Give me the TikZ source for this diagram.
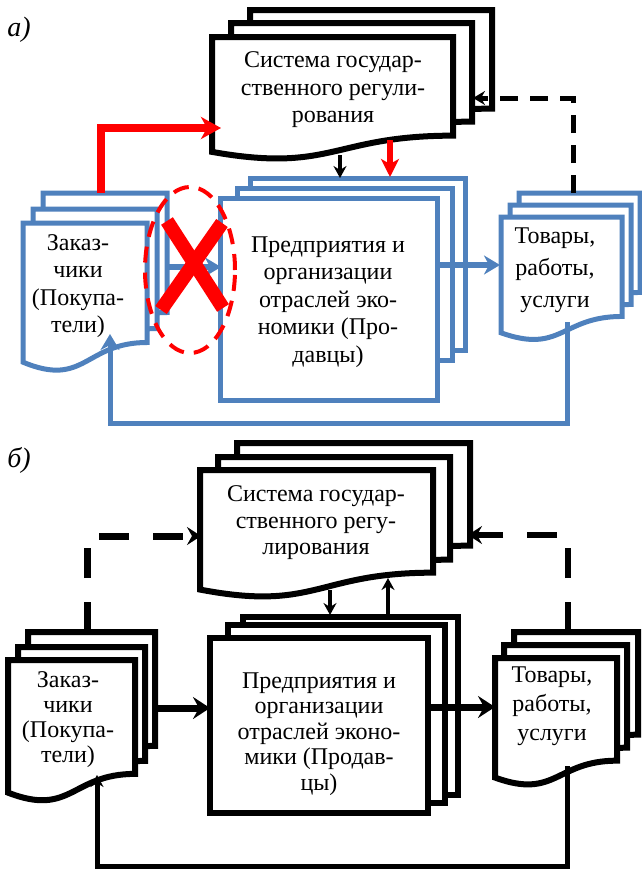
\documentclass[tikz,border=0pt]{standalone}
\usepackage{fontspec}
\setmainfont{Liberation Serif}
\usetikzlibrary{arrows.meta}
\definecolor{docblue}{RGB}{79,129,189}
\definecolor{docred}{RGB}{255,0,0}

% sheet with a wavy bottom: style, left, top, width, height (y counted downwards)
\newcommand\docsheet[5]{%
  \pgfmathsetmacro\dsR{-(#3+0.802*#5)}%
  \pgfmathsetmacro\dsL{-(#3+0.934*#5)}%
  \pgfmathsetmacro\dsC{-(#3+1.108*#5)}%
  \pgfmathsetmacro\dsX{#2+#4}%
  \pgfmathsetmacro\dsM{#2+0.5*#4}%
  \draw[#1] (#2,-#3) -- (\dsX,-#3) -- (\dsX,\dsR)
    .. controls (\dsM,\dsR) and (\dsM,\dsC) .. (#2,\dsL) -- cycle;
}

\tikzset{
  bluesheet/.style={draw=docblue, line width=5pt, fill=white},
  blacksheet/.style={draw=black, line width=6pt, fill=white},
  lbl/.style={align=center, inner sep=0pt, font=\fontsize{24}{27.5}\selectfont},
  tag/.style={inner sep=0pt, font=\fontsize{28}{30}\selectfont\itshape},
  redline/.style={draw=docred, line width=8pt, -{Stealth[length=20pt,width=22pt,inset=6pt]}},
  reddown/.style={draw=docred, line width=6pt, -{Stealth[length=18pt,width=18pt,inset=5pt]}},
  blueline/.style={draw=docblue, line width=6pt, -{Stealth[length=16pt,width=19pt,inset=5pt]}},
  blackthin/.style={draw=black, line width=4pt, -{Stealth[length=12pt,width=13pt,inset=4pt]}},
  blackthick/.style={draw=black, line width=7pt, -{Stealth[length=17pt,width=22pt,inset=6pt]}},
  dashA/.style={draw=black, line width=5pt, dash pattern=on 18pt off 12pt, -{Stealth[length=12pt,width=14pt,inset=4pt]}},
  dashB/.style={draw=black, line width=7pt, dash pattern=on 30pt off 24pt, -{Stealth[length=14pt,width=18pt,inset=5pt]}},
  cross/.style={draw=docred, line width=14pt},
  redring/.style={draw=docred, line width=4pt, dash pattern=on 16pt off 10pt},
}

\begin{document}
\begin{tikzpicture}[x=1pt,y=1pt]
  \useasboundingbox (0,0) rectangle (641,-870);

  %%%%% a) %%%%%
  \node[tag] (tagA) at (19,-30) {а)};

  \docsheet{blacksheet}{250}{10}{242}{123}
  \docsheet{blacksheet}{231}{23}{241}{123}
  \docsheet{blacksheet}{212}{37}{241}{123}
  \node[lbl] (govA) at (333,-90) {Система государ-\\ственного регули-\\рования};

  \docsheet{bluesheet}{43}{193}{124}{149}
  \docsheet{bluesheet}{33}{209}{124}{149}
  \docsheet{bluesheet}{23}{223}{124}{149}
  \node[lbl] (zakA) at (78,-286) {Заказ-\\чики\\(Покупа-\\тели)};

  \draw[bluesheet] (250,-178) rectangle (465,-350);
  \draw[bluesheet] (237,-188) rectangle (452,-360);
  \draw[bluesheet] (220,-198) rectangle (437,-400);
  \node[lbl] (predA) at (328,-302) {Предприятия и\\организации\\отраслей эко-\\номики (Про-\\давцы)};

  \docsheet{bluesheet}{519}{193}{121}{124}
  \docsheet{bluesheet}{510}{205}{121}{124}
  \docsheet{bluesheet}{501}{217}{121}{124}
  \node[lbl, font=\fontsize{24}{32}\selectfont] (tovA) at (555,-270) {Товары,\\работы,\\услуги};

  \coordinate (zakA-top) at (101,-193);
  \coordinate (govA-in) at (221,-128);
  \coordinate (govA-out1) at (340,-155);
  \coordinate (predA-in1) at (340,-178);
  \coordinate (govA-out2) at (390,-140);
  \coordinate (predA-in2) at (390,-177);
  \coordinate (tovA-top) at (573,-193);
  \coordinate (govA-back) at (473,-98);
  \coordinate (zakA-right) at (167,-267);
  \coordinate (predA-left) at (221,-267);
  \coordinate (predA-right) at (437,-265);
  \coordinate (tovA-left) at (500,-265);
  \coordinate (tovA-bottom) at (567,-322);
  \coordinate (loopA) at (567,-423);
  \coordinate (zakA-bottom) at (110,-334);

  \draw[redline] (zakA-top) |- (govA-in);
  \draw[blackthin] (govA-out1) -- (predA-in1);
  \draw[reddown] (govA-out2) -- (predA-in2);
  \draw[dashA] (tovA-top) |- (govA-back);
  \draw[blueline] (zakA-right) -- (predA-left);
  \draw[blueline] (predA-right) -- (tovA-left);
  \draw[blueline, line width=5pt] (tovA-bottom) -- (loopA) -| (zakA-bottom);

  % cancelled link
  \draw[redring] (190,-270) ellipse [x radius=45, y radius=83];
  \draw[cross] (167,-221) -- (223,-308);
  \draw[cross] (222,-223) -- (161,-310);

  %%%%% b) %%%%%
  \node[tag] (tagB) at (19,-460) {б)};

  \docsheet{blacksheet}{237}{443}{233}{128}
  \docsheet{blacksheet}{218}{457}{232}{128}
  \docsheet{blacksheet}{200}{470}{233}{128}
  \node[lbl, font=\fontsize{24}{26.5}\selectfont] (govB) at (316,-523) {Система государ-\\ственного регу-\\лирования};

  \docsheet{blacksheet}{28}{632}{127}{142}
  \docsheet{blacksheet}{18}{647}{127}{142}
  \docsheet{blacksheet}{8}{660}{127}{142}
  \node[lbl, font=\fontsize{24}{25}\selectfont] (zakB) at (68,-720) {Заказ-\\чики\\(Покупа-\\тели)};

  \draw[blacksheet] (243,-617) rectangle (458,-795);
  \draw[blacksheet] (228,-625) rectangle (445,-803);
  \draw[blacksheet] (210,-638) rectangle (428,-813);
  \node[lbl, font=\fontsize{24}{25.5}\selectfont] (predB) at (319,-734) {Предприятия и\\организации\\отраслей эконо-\\мики (Продав-\\цы)};

  \docsheet{blacksheet}{514}{632}{124}{128}
  \docsheet{blacksheet}{504}{645}{123}{128}
  \docsheet{blacksheet}{495}{658}{122}{128}
  \node[lbl, font=\fontsize{24}{29}\selectfont] (tovB) at (552,-706) {Товары,\\работы,\\услуги};

  \coordinate (zakB-top) at (87,-632);
  \coordinate (govB-in) at (201,-536);
  \coordinate (tovB-top) at (568,-632);
  \coordinate (govB-back) at (468,-535);
  \coordinate (govB-out) at (330,-590);
  \coordinate (predB-in) at (330,-615);
  \coordinate (predB-out) at (388,-615);
  \coordinate (govB-back2) at (388,-578);
  \coordinate (zakB-right) at (155,-708);
  \coordinate (predB-left) at (210,-708);
  \coordinate (predB-right) at (428,-707);
  \coordinate (tovB-left) at (495,-707);
  \coordinate (tovB-bottom) at (567,-766);
  \coordinate (loopB) at (567,-866);
  \coordinate (zakB-bottom) at (97,-775);

  \draw[dashB] (zakB-top) |- (govB-in);
  \draw[dashB, line width=6pt] (tovB-top) |- (govB-back);
  \draw[blackthin] (govB-out) -- (predB-in);
  \draw[blackthin] (predB-out) -- (govB-back2);
  \draw[blackthick] (zakB-right) -- (predB-left);
  \draw[blackthick] (predB-right) -- (tovB-left);
  \draw[blackthin, line width=5pt] (tovB-bottom) -- (loopB) -| (zakB-bottom);
\end{tikzpicture}
\end{document}
